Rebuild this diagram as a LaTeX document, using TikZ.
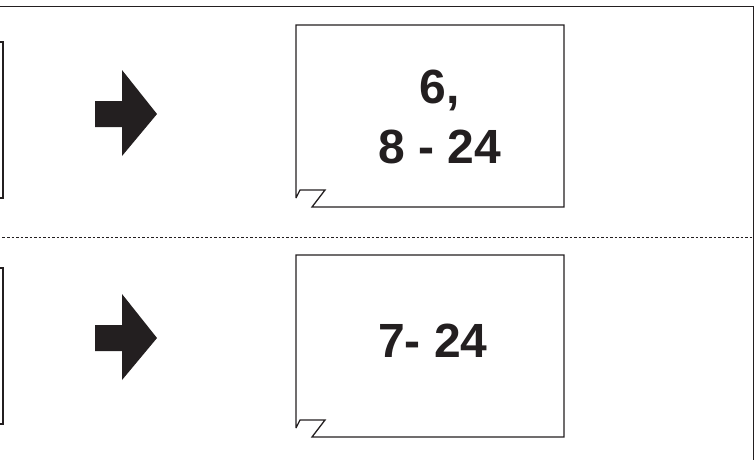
\documentclass[tikz,border=0pt]{standalone}
\usepackage{fontspec}
\setmainfont{Liberation Sans}
\definecolor{ink}{HTML}{231F20}
\tikzset{
  frameline/.style={draw=ink, line width=1pt},
  sepline/.style={draw=ink, line width=1pt, dash pattern=on 2.5pt off 2pt},
  boxline/.style={draw=ink, line width=1.3pt, line join=miter},
  bigarrow/.style={fill=ink, draw=none},
  bignum/.style={text=ink, font=\fontsize{48}{58}\selectfont\bfseries, inner sep=0pt, anchor=base},
}
\begin{document}
\begin{tikzpicture}[x=1pt, y=-1pt]
\useasboundingbox (0,0) rectangle (755,459);
\clip (0,0) rectangle (755,459);
% outer frame and separator
\coordinate (ftl) at (-20,6);
\coordinate (ftr) at (753,6);
\coordinate (fbr) at (753,480);
\draw[frameline] (ftl) -- (ftr) -- (fbr);
\coordinate (sl) at (-20,237);
\coordinate (sr) at (753,237);
\draw[sepline] (sl) -- (sr);
% cut-off boxes on the left
\coordinate (la1) at (-60,42);
\coordinate (lb1) at (3,198);
\draw[boxline] (la1) rectangle (lb1);
\coordinate (la2) at (-60,268);
\coordinate (lb2) at (3,424);
\draw[boxline] (la2) rectangle (lb2);
% arrows
\foreach \n/\yc in {1/114, 2/338}{
  \fill[bigarrow] (95,\yc-13) -- (122,\yc-13) -- (122,\yc-44) -- (157,\yc) -- (122,\yc+42) -- (122,\yc+13) -- (95,\yc+13) -- cycle;
}
% right boxes with page curl
\foreach \n/\yt in {1/25, 2/255}{
  \draw[boxline] (296,\yt+173) -- (296,\yt) -- (564,\yt) -- (564,\yt+182) -- (312,\yt+182) -- (325,\yt+165) -- (300,\yt+165) -- (296,\yt+173);
}
% texts
\node[bignum] (t1) at (440,103) {6,};
\node[bignum] (t2) at (440,163) {8 - 24};
\node[bignum] (t3) at (433,357) {7- 24};
\end{tikzpicture}
\end{document}
